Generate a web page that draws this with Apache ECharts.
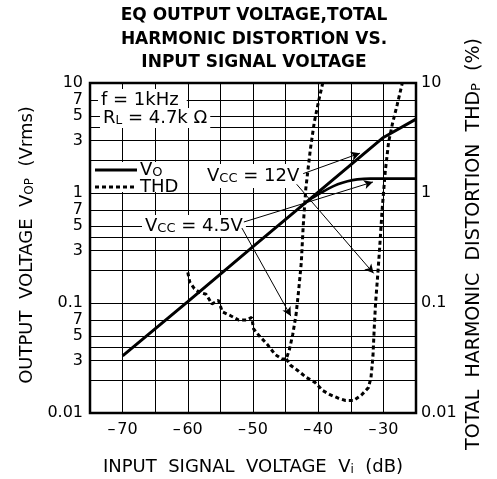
<!DOCTYPE html>
<html><head><meta charset="utf-8">
<script src="https://cdn.jsdelivr.net/npm/echarts@6/dist/echarts.min.js"></script>
<style>html,body{margin:0;padding:0;background:#fff}#c{width:497px;height:479px}</style>
</head><body><div id="c"></div>
<script>
// ---------- data ----------
const xTickLabels = [-70, -60, -50, -40, -30];
const yMajorLabels = [0.01, 0.1, 1, 10];
const yMinorGrid = [0.02, 0.03, 0.04, 0.05, 0.07, 0.2, 0.3, 0.4, 0.5, 0.7, 2, 3, 4, 5, 7];
const yMinorLabels = [0.03, 0.05, 0.07, 0.3, 0.5, 0.7, 3, 5, 7];

// Output voltage Vo (Vrms)
const vo12 = [[-70, 0.033], [-60, 0.103], [-50, 0.325], [-40, 1.02], [-30, 3.2], [-25, 4.7]];
const vo45 = [[-41.5, 0.86], [-40, 0.97], [-38.5, 1.09], [-37, 1.2], [-35.5, 1.28], [-34, 1.33], [-32, 1.35], [-25, 1.35]];

// THD (%)
const thdLow = [[-60, 0.19], [-59.7, 0.155], [-59, 0.135], [-58.2, 0.125], [-57.2, 0.12], [-56.3, 0.098], [-55.3, 0.106],
  [-54.7, 0.083], [-53.5, 0.077], [-52.2, 0.07], [-51, 0.07], [-50.2, 0.074], [-49.9, 0.058], [-49, 0.05],
  [-47.8, 0.042], [-46.6, 0.034], [-45.6, 0.031], [-44.9, 0.031]];
const thd45Rise = [[-44.4, 0.038], [-43.9, 0.052], [-43.4, 0.078], [-43.0, 0.13], [-42.6, 0.23], [-42.3, 0.5],
  [-41.9, 1.1], [-41.2, 2.5], [-40.6, 4.4], [-39.9, 7], [-39.3, 10]];
const thd12Tail = [[-44.2, 0.027], [-43, 0.024], [-41.8, 0.021], [-40.5, 0.019], [-39.3, 0.016], [-38.2, 0.0147],
  [-37, 0.0137], [-35.8, 0.013], [-34.6, 0.013], [-33.4, 0.0145], [-32.3, 0.017], [-31.9, 0.021], [-31.6, 0.033],
  [-31.4, 0.06], [-31.2, 0.1], [-30.9, 0.17], [-30.6, 0.3], [-30.2, 0.7], [-29.7, 1.6], [-29.2, 2.9],
  [-28.6, 4.3], [-27.9, 6.3], [-27.1, 10]];

// annotation arrows (start -> end, data coords)
const arrows = [
  [[-42.3, 1.5], [-33.6, 2.3]],
  [[-43.3, 1.2], [-31.5, 0.186]],
  [[-51.4, 0.545], [-31.6, 1.26]],
  [[-51.7, 0.48], [-44.2, 0.076]]
];

// ---------- chart ----------
const FONT = 'DejaVu Sans';
const fmtNum = v => String(Number(Number(v).toPrecision(3)));
const minorLbl = v => String(fmtNum(v)).replace(/[0.]/g, '');
const chart = echarts.init(document.getElementById('c'));

const solid = {color: '#000', width: 3};
const dashed = {color: '#000', width: 3, type: [4, 3]};

const option = {
  animation: false,
  grid: {left: 90, right: 81, top: 83, bottom: 66, show: true, borderColor: '#000', borderWidth: 2.5},
  xAxis: {
    type: 'value', min: -75, max: -25, interval: 5,
    axisLine: {show: false}, axisTick: {show: false},
    splitLine: {show: true, lineStyle: {color: '#000', width: 1}},
    axisLabel: {
      color: '#000', fontFamily: FONT, fontSize: 16, margin: 9,
      formatter: v => xTickLabels.includes(v) ? '\u2013\u200a' + Math.abs(v) : ''
    }
  },
  yAxis: [{
    type: 'log', logBase: 10, min: 0.01, max: 10,
    axisLine: {show: false}, axisTick: {show: false},
    splitLine: {show: true, lineStyle: {color: '#000', width: 1}},
    axisLabel: {color: '#000', fontFamily: FONT, fontSize: 16, margin: 7,
      formatter: v => yMajorLabels.map(fmtNum).includes(fmtNum(v)) ? fmtNum(v) : ''}
  }, {
    type: 'log', logBase: 10, min: 0.01, max: 10, position: 'right',
    axisLine: {show: false}, axisTick: {show: false}, splitLine: {show: false},
    axisLabel: {color: '#000', fontFamily: FONT, fontSize: 16, margin: 5,
      formatter: v => yMajorLabels.map(fmtNum).includes(fmtNum(v)) ? fmtNum(v) : ''}
  }],
  series: [
    {
      type: 'line', data: [], yAxisIndex: 0, silent: true,
      markLine: {
        silent: true, symbol: 'none', z: 1, animation: false,
        lineStyle: {color: '#000', width: 1, type: 'solid'},
        data: yMinorGrid.map(v => ({
          yAxis: v,
          label: {show: yMinorLabels.includes(v), position: 'start', distance: 7, formatter: minorLbl(v),
            color: '#000', fontFamily: FONT, fontSize: 16}
        }))
      }
    },
    {
      type: 'line', data: [], yAxisIndex: 1, silent: true,
      markLine: {
        silent: true, symbol: 'none', z: 1, animation: false,
        lineStyle: {color: '#000', width: 0, opacity: 0},
        data: yMinorLabels.map(v => ({
          yAxis: v,
          label: {show: true, position: 'end', distance: 5, formatter: minorLbl(v),
            color: '#000', fontFamily: FONT, fontSize: 16}
        }))
      }
    },
    {name: 'Vo 12V', type: 'line', data: vo12, symbol: 'none', lineStyle: solid, z: 6},
    {name: 'Vo 4.5V', type: 'line', data: vo45, symbol: 'none', smooth: 0.4, lineStyle: {color: '#000', width: 2.6}, z: 6},
    {name: 'THD 4.5V', type: 'line', yAxisIndex: 1, data: thdLow.concat(thd45Rise), symbol: 'none', lineStyle: dashed, z: 6},
    {name: 'THD 12V', type: 'line', yAxisIndex: 1, data: [thdLow[thdLow.length - 1]].concat(thd12Tail), symbol: 'none', lineStyle: dashed, z: 6},
    {
      type: 'line', data: [], yAxisIndex: 0, silent: true,
      markLine: {
        silent: true, z: 4, animation: false, symbol: ['none', 'arrow'], symbolSize: [7, 9],
        lineStyle: {color: '#000', width: 1, type: 'solid'},
        label: {show: false},
        data: arrows.map(a => [{coord: a[0]}, {coord: a[1]}])
      }
    }
  ],
  graphic: [
    {type: 'text', x: 254, y: 4, z: 10, style: {
      text: 'EQ OUTPUT VOLTAGE,TOTAL\nHARMONIC DISTORTION VS.\nINPUT SIGNAL VOLTAGE',
      font: 'bold 17px "DejaVu Sans"', fill: '#000', align: 'center', verticalAlign: 'top', lineHeight: 23.5}},
    {type: 'text', x: 27, y: 245, rotation: Math.PI / 2, z: 10, style: {
      text: '{a|OUTPUT  VOLTAGE  V}{s|OP}{a|  (Vrms)}', align: 'center', verticalAlign: 'middle', fill: '#000',
      rich: {a: {fontSize: 18, fontFamily: FONT, fill: '#000'}, s: {fontSize: 12, fontFamily: FONT, verticalAlign: 'bottom', fill: '#000'}}}},
    {type: 'text', x: 474, y: 244, rotation: Math.PI / 2, z: 10, style: {
      text: '{a|TOTAL  HARMONIC  DISTORTION  THD}{s|P}{a|  (%)}', align: 'center', verticalAlign: 'middle', fill: '#000',
      rich: {a: {fontSize: 19, fontFamily: FONT, fill: '#000'}, s: {fontSize: 13, fontFamily: FONT, verticalAlign: 'bottom', fill: '#000'}}}},
    {type: 'text', x: 253, y: 467, z: 10, style: {
      text: '{a|INPUT  SIGNAL  VOLTAGE  V}{s|i}{a|  (dB)}', align: 'center', verticalAlign: 'middle', fill: '#000',
      rich: {a: {fontSize: 18, fontFamily: FONT, fill: '#000'}, s: {fontSize: 12, fontFamily: FONT, verticalAlign: 'bottom', fill: '#000'}}}},
    // in-plot annotations
    {type: 'text', x: 98, y: 100, z: 3, style: {
      text: 'f = 1kHz', font: '18px "DejaVu Sans"', fill: '#000', verticalAlign: 'middle',
      backgroundColor: '#fff', padding: [2, 8, 2, 3]}},
    {type: 'text', x: 100, y: 118, z: 3, style: {
      text: '{a|R}{s|L}{a| = 4.7k Ω}', verticalAlign: 'middle', fill: '#000', backgroundColor: '#fff', padding: [1, 3, 1, 3],
      rich: {a: {fontSize: 18, fontFamily: FONT, fill: '#000'}, s: {fontSize: 12, fontFamily: FONT, verticalAlign: 'bottom', fill: '#000'}}}},
    {type: 'text', x: 204, y: 176, z: 3, style: {
      text: '{a|V}{s|CC}{a| = 12V}', verticalAlign: 'middle', fill: '#000', backgroundColor: '#fff', padding: [3, 4, 3, 3],
      rich: {a: {fontSize: 18, fontFamily: FONT, fill: '#000'}, s: {fontSize: 13, fontFamily: FONT, verticalAlign: 'bottom', fill: '#000'}}}},
    {type: 'text', x: 142, y: 226, z: 3, style: {
      text: '{a|V}{s|CC}{a| = 4.5V}', verticalAlign: 'middle', fill: '#000', backgroundColor: '#fff', padding: [2, 3, 2, 3],
      rich: {a: {fontSize: 18, fontFamily: FONT, fill: '#000'}, s: {fontSize: 13, fontFamily: FONT, verticalAlign: 'bottom', fill: '#000'}}}},
    // legend
    {type: 'rect', z: 3, shape: {x: 92, y: 162, width: 94, height: 30}, style: {fill: '#fff'}},
    {type: 'line', z: 4, shape: {x1: 95, y1: 170, x2: 137, y2: 170}, style: {stroke: '#000', lineWidth: 3}},
    {type: 'line', z: 4, shape: {x1: 95, y1: 187, x2: 137, y2: 187}, style: {stroke: '#000', lineWidth: 3, lineDash: [4, 3]}},
    {type: 'text', x: 140, y: 170, z: 4, style: {
      text: '{a|V}{s|O}', verticalAlign: 'middle', fill: '#000',
      rich: {a: {fontSize: 18, fontFamily: FONT, fill: '#000'}, s: {fontSize: 13, fontFamily: FONT, verticalAlign: 'bottom', fill: '#000'}}}},
    {type: 'text', x: 140, y: 187, z: 4, style: {text: 'THD', font: '18px "DejaVu Sans"', fill: '#000', verticalAlign: 'middle'}}
  ]
};
chart.setOption(option);
</script>
</body></html>
